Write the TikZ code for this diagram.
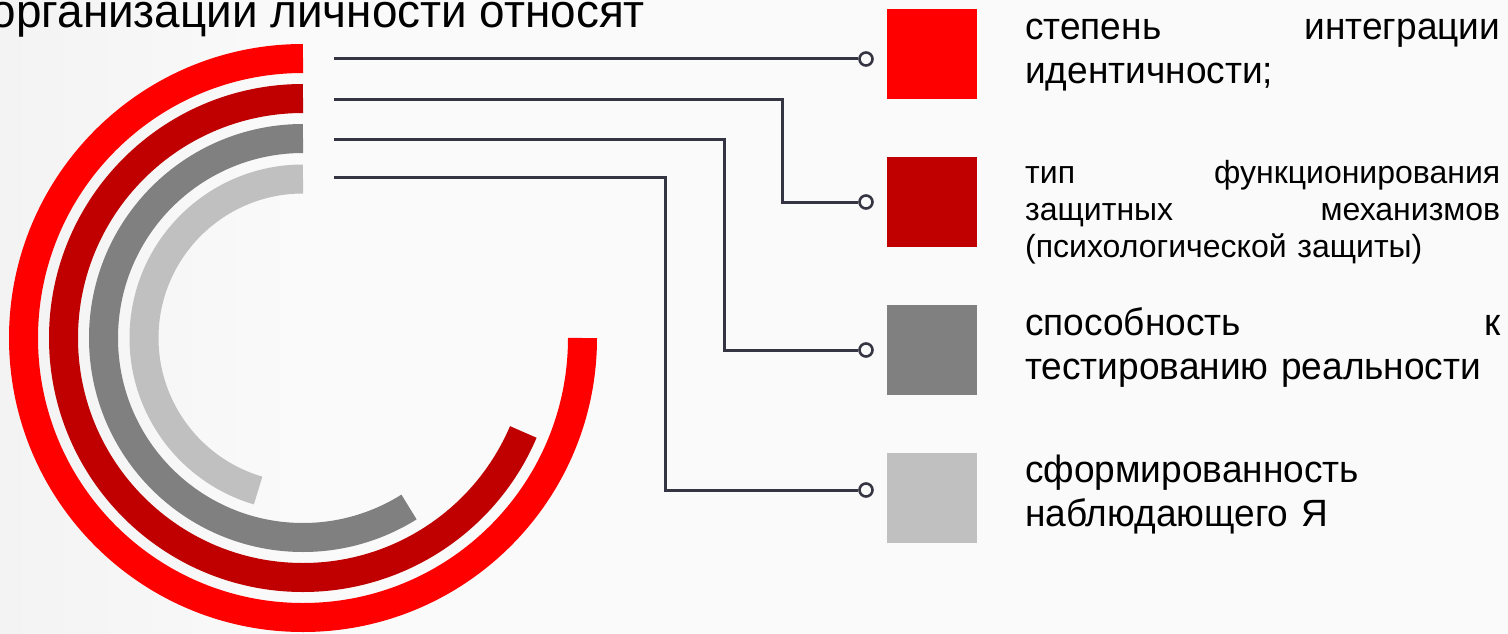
\documentclass[tikz,border=0pt]{standalone}
\usepackage{fontspec}
\setmainfont{Liberation Sans}
\newfontfamily\narrowfont[FakeStretch=0.975]{Liberation Sans}
\definecolor{bgL}{HTML}{F3F3F3}
\definecolor{bgR}{HTML}{FAFAFA}
\definecolor{cRed}{HTML}{FF0000}
\definecolor{cDark}{HTML}{C00000}
\definecolor{cGray}{HTML}{808080}
\definecolor{cLight}{HTML}{C0C0C0}
\definecolor{cLine}{RGB}{52,52,66}
\begin{document}
\begin{tikzpicture}[x=1pt,y=1pt,
  ring/.style={line width=29pt},
  conn/.style={draw=cLine,line width=3pt},
  dot/.style={circle,draw=cLine,line width=2.6pt,fill=bgR,minimum size=13pt,inner sep=0pt},
  sq/.style={minimum size=90pt,inner sep=0pt,anchor=north west},
  big/.style={font=\narrowfont\fontsize{38}{44}\selectfont,text width=475pt,align=left,inner sep=0pt,anchor=base west},
  small/.style={font=\fontsize{32}{37}\selectfont,text width=475pt,align=left,inner sep=0pt,anchor=base west}]
\useasboundingbox (0,0) rectangle (1508,-634);
\fill[left color=bgL,right color=bgR] (0,0) rectangle (300,-634);
\fill[bgR] (300,0) rectangle (1508,-634);
% title
\node[font=\narrowfont\fontsize{47}{52}\selectfont,inner sep=0pt,anchor=base east] (title) at (645,-28) {организации личности относят};
% rings
\draw[ring,cRed] (303,-58.5) arc[start angle=90,end angle=360,radius=279.5];
\draw[ring,cDark] (303,-98.5) arc[start angle=90,end angle=336.9,radius=239.5];
\draw[ring,cGray] (303,-138.5) arc[start angle=90,end angle=302.1,radius=199.5];
\draw[ring,cLight] (303,-179) arc[start angle=90,end angle=253.6,radius=159];
% connector start points and bends
\coordinate (s1) at (334,-59);
\coordinate (s2) at (334,-99);
\coordinate (s3) at (334,-139);
\coordinate (s4) at (334,-177);
\coordinate (k2) at (782,-99);
\coordinate (k3) at (724,-139);
\coordinate (k4) at (665,-177);
% dots
\node[dot] (c1) at (866,-59) {};
\node[dot] (c2) at (866,-202) {};
\node[dot] (c3) at (866,-350) {};
\node[dot] (c4) at (866,-490) {};
\draw[conn] (s1) -- (c1);
\draw[conn] (s2) -- (k2) |- (c2);
\draw[conn] (s3) -- (k3) |- (c3);
\draw[conn] (s4) -- (k4) |- (c4);
% squares
\node[sq,fill=cRed] (q1) at (887,-9) {};
\node[sq,fill=cDark] (q2) at (887,-157) {};
\node[sq,fill=cGray] (q3) at (887,-305) {};
\node[sq,fill=cLight] (q4) at (887,-453) {};
% texts
\node[big] (t1) at (1025,-40) {степень\hfill интеграции\\идентичности;};
\node[small] (t2) at (1025,-183) {тип\hfill функционирования\\защитных\hfill механизмов\\(психологической защиты)};
\node[big] (t3) at (1025,-335) {способность\hfill к\\тестированию реальности};
\node[big] (t4) at (1025,-482) {сформированность\\наблюдающего Я};
\end{tikzpicture}
\end{document}
